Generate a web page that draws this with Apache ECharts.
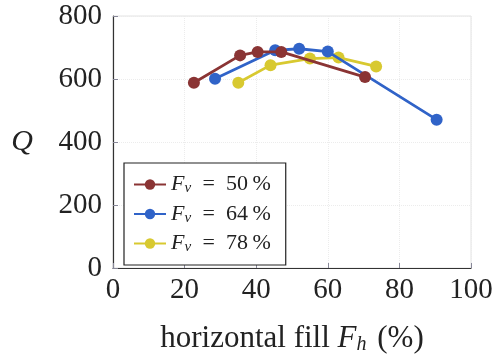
<!DOCTYPE html>
<html><head><meta charset="utf-8">
<script src="https://cdn.jsdelivr.net/npm/echarts@6/dist/echarts.min.js"></script>
<style>html,body{margin:0;padding:0;background:#fff}#c{width:496px;height:360px}</style>
</head><body><div id="c"></div>
<script>
const seriesNames = ['Fv50', 'Fv64', 'Fv78'];
const legendValues = ['50', '64', '78'];
const fh50 = [22.6, 35.5, 40.4, 47.0, 70.4];
const q50 = [588, 675, 686, 686, 606];
const fh64 = [28.5, 45.3, 52.0, 60.0, 90.4];
const q64 = [601, 691, 696, 687, 471];
const fh78 = [35.0, 44.0, 55.0, 63.0, 73.5];
const q78 = [588, 644, 665, 668, 640];
const xTicks = [0, 20, 40, 60, 80, 100];
const yTicks = [0, 200, 400, 600, 800];
const colors = ['#8a3434', '#3063c8', '#d8c930'];

const FONT = 'Liberation Serif';
const pairs = (xs, ys) => xs.map((x, i) => [x, ys[i]]);
const data = [pairs(fh50, q50), pairs(fh64, q64), pairs(fh78, q78)];

const chart = echarts.init(document.getElementById('c'), null, {renderer: 'canvas'});
chart.setOption({
  animation: false,
  grid: {left: 113, right: 25, top: 16, bottom: 86.5, show: true, borderColor: '#e2e2e2', borderWidth: 1},
  xAxis: {
    type: 'value', min: xTicks[0], max: xTicks[xTicks.length - 1], interval: 20,
    axisLine: {onZero: false, lineStyle: {color: '#333', width: 1.2}},
    axisTick: {inside: true, length: 5, lineStyle: {color: '#889'}},
    splitLine: {show: true, lineStyle: {color: '#ececec', type: 'dotted'}},
    axisLabel: {fontFamily: FONT, fontSize: 29, color: '#222', margin: 8,
      formatter: v => xTicks.includes(v) ? String(v) : ''},
    name: '{r|horizontal fill }{i|F}{s|h}{r| (%)}',
    nameLocation: 'middle', nameGap: 55,
    nameTextStyle: {rich: {
      r: {fontFamily: FONT, fontSize: 31, color: '#222'},
      i: {fontFamily: FONT, fontSize: 31, fontStyle: 'italic', color: '#222'},
      s: {fontFamily: FONT, fontSize: 20, fontStyle: 'italic', color: '#222', padding: [12, 3, 0, 0]}
    }}
  },
  yAxis: {
    type: 'value', min: yTicks[0], max: yTicks[yTicks.length - 1], interval: 200,
    axisLine: {show: true, lineStyle: {color: '#333', width: 1.2}},
    axisTick: {show: true, inside: true, length: 5, lineStyle: {color: '#889'}},
    splitLine: {show: true, lineStyle: {color: '#ececec', type: 'dotted'}},
    axisLabel: {fontFamily: FONT, fontSize: 29, color: '#222', margin: 11,
      formatter: v => yTicks.includes(v) ? String(v) : ''},
    name: 'Q', nameLocation: 'middle', nameRotate: 0, nameGap: 80,
    nameTextStyle: {fontFamily: FONT, fontSize: 30, fontStyle: 'italic', color: '#222'}
  },
  legend: {
    orient: 'vertical', left: 124, top: 163,
    padding: [10, 15, 10, 9], itemGap: 6.5,
    borderColor: '#222', borderWidth: 1.2, backgroundColor: '#fff',
    itemWidth: 32, itemHeight: 13,
    data: seriesNames,
    formatter: name => {
      const v = legendValues[seriesNames.indexOf(name)];
      return '{i|F}{s|v}{r| =  ' + v + '\u2009%}';
    },
    textStyle: {lineHeight: 22, rich: {
      r: {fontFamily: FONT, fontSize: 22, color: '#222', lineHeight: 22},
      i: {fontFamily: FONT, fontSize: 22, fontStyle: 'italic', color: '#222', lineHeight: 22},
      s: {fontFamily: FONT, fontSize: 15, fontStyle: 'italic', color: '#222', padding: [8, 6, 0, 0], lineHeight: 22}
    }}
  },
  series: seriesNames.map((n, k) => ({
    name: n, type: 'line', data: data[k],
    symbol: 'circle', symbolSize: 12,
    itemStyle: {color: colors[k]},
    lineStyle: {color: colors[k], width: 2.8},
    z: 3 - k
  }))
});
</script></body></html>
